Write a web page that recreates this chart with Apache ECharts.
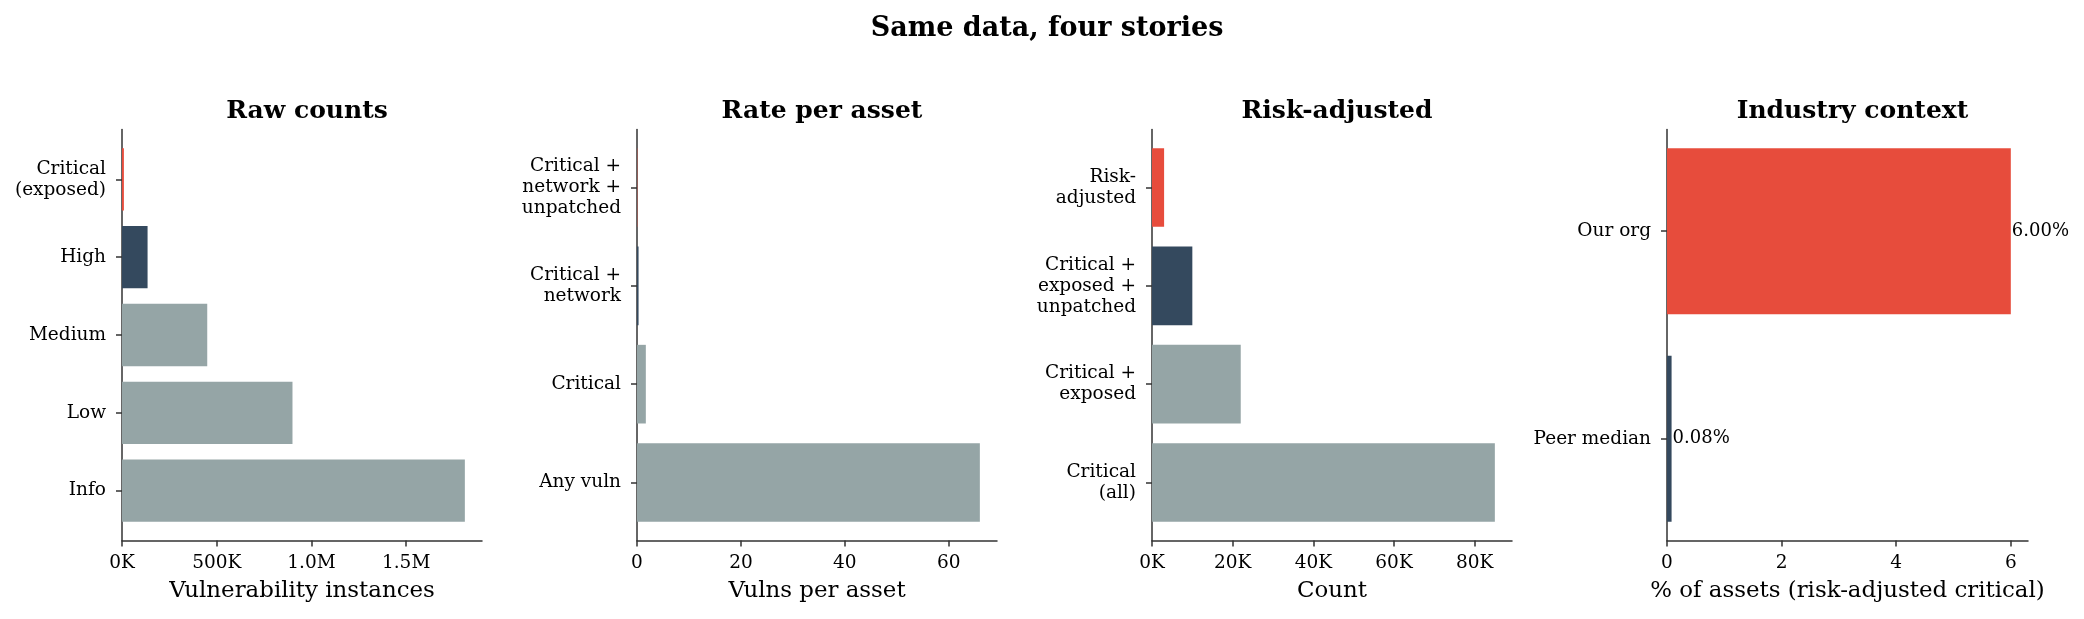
<!DOCTYPE html>
<html lang="en">
<head>
	<meta charset="UTF-8">
	<title>Same data, four stories</title>
	<script src="https://cdn.jsdelivr.net/npm/echarts@6/dist/echarts.min.js"></script>
	<style>
		html,body{margin:0;padding:0;width:100%;height:100%;background:#fff;}
		#chart{width:2084px;height:619px;}
	</style>
</head>
<body>
	<div id="chart"></div>
</body>
<script>
	// ---- data ----
	var rawCats = ['Critical\n(exposed)', 'High', 'Medium', 'Low', 'Info'];
	var rawVals = [10000, 135000, 450000, 900000, 1810000];
	var rawTicks = [0, 500000, 1000000, 1500000];
	var rawTickLabels = ['0K', '500K', '1.0M', '1.5M'];

	var rateCats = ['Critical +\nnetwork +\nunpatched', 'Critical +\nnetwork', 'Critical', 'Any vuln'];
	var rateVals = [0.06, 0.3, 1.7, 66];
	var rateTicks = [0, 20, 40, 60];
	var rateTickLabels = ['0', '20', '40', '60'];

	var riskCats = ['Risk-\nadjusted', 'Critical +\nexposed +\nunpatched', 'Critical +\nexposed', 'Critical\n(all)'];
	var riskVals = [3000, 10000, 22000, 85000];
	var riskTicks = [0, 20000, 40000, 60000, 80000];
	var riskTickLabels = ['0K', '20K', '40K', '60K', '80K'];

	var ctxCats = ['Our org', 'Peer median'];
	var ctxVals = [6.0, 0.08];
	var ctxTicks = [0, 2, 4, 6];
	var ctxTickLabels = ['0', '2', '4', '6'];

	// ---- styles ----
	var RED = '#e74c3c', NAVY = '#34495e', GREY = '#95a5a6', INK = '#333333';
	var FONT = 'DejaVu Serif';
	var rawColours = [RED, NAVY, GREY, GREY, GREY];
	var rateColours = [RED, NAVY, GREY, GREY];
	var riskColours = [RED, NAVY, GREY, GREY];
	var ctxColours = [RED, NAVY];

	var panels = [
		{title: 'Raw counts', xName: 'Vulnerability instances', cats: rawCats, vals: rawVals, colours: rawColours, ticks: rawTicks, tickLabels: rawTickLabels, left: 122, right: 482},
		{title: 'Rate per asset', xName: 'Vulns per asset', cats: rateCats, vals: rateVals, colours: rateColours, ticks: rateTicks, tickLabels: rateTickLabels, left: 637, right: 997},
		{title: 'Risk-adjusted', xName: 'Count', cats: riskCats, vals: riskVals, colours: riskColours, ticks: riskTicks, tickLabels: riskTickLabels, left: 1152, right: 1512},
		{title: 'Industry context', xName: '% of assets (risk-adjusted critical)', cats: ctxCats, vals: ctxVals, colours: ctxColours, ticks: ctxTicks, tickLabels: ctxTickLabels, left: 1667, right: 2028, valueLabels: true}
	];

	var SPINE_TOP = 129.5, SPINE_H = 411;

	var myChart = echarts.init(document.getElementById('chart'), null, {renderer: 'canvas'});

	var titles = [{
		text: 'Same data, four stories',
		left: 1042, top: 10, textAlign: 'center',
		textStyle: {fontFamily: FONT, fontSize: 27, fontWeight: 'bold', color: '#000'}
	}];
	var grids = [], xAxes = [], yAxes = [], series = [];

	panels.forEach(function (p, i) {
		var n = p.cats.length;
		var xmax = Math.max.apply(null, p.vals) * 1.05;
		// matplotlib-like: bars (0.8 wide) fill 1/1.1 of the spine
		var band = (SPINE_H / 1.1) / (n - 0.2);
		var inset = (SPINE_H - n * band) / 2;
		var w = p.right - p.left;

		titles.push({
			text: p.title,
			left: (p.left + p.right) / 2, top: 94, textAlign: 'center',
			textStyle: {fontFamily: FONT, fontSize: 25, fontWeight: 'bold', color: '#000'}
		});

		// grid for spines + x axis
		grids.push({left: p.left, top: SPINE_TOP, width: w, height: SPINE_H});
		// grid for bars + category labels
		grids.push({left: p.left, top: SPINE_TOP + inset, width: w, height: n * band});

		var tl = p.tickLabels, tk = p.ticks;
		xAxes.push({
			gridIndex: 2 * i, type: 'value', min: 0, max: xmax,
			name: p.xName, nameLocation: 'middle', nameGap: 39,
			nameTextStyle: {fontFamily: FONT, fontSize: 22.9, color: '#000'},
			axisLine: {show: true, onZero: false, lineStyle: {color: INK, width: 1.5}},
			axisTick: {show: true, length: 6, customValues: tk, lineStyle: {color: INK, width: 1.5}},
			axisLabel: {
				show: true, customValues: tk, margin: 13,
				fontFamily: FONT, fontSize: 18.5, color: '#000',
				formatter: function (v) {
					var k = tk.indexOf(v);
					return k >= 0 ? tl[k] : '';
				}
			},
			splitLine: {show: false}
		});
		yAxes.push({
			gridIndex: 2 * i, type: 'value', min: 0, max: 1,
			axisLine: {show: true, onZero: false, lineStyle: {color: INK, width: 1.5}},
			axisTick: {show: false}, axisLabel: {show: false}, splitLine: {show: false}
		});

		xAxes.push({gridIndex: 2 * i + 1, type: 'value', min: 0, max: xmax, show: false});
		yAxes.push({
			gridIndex: 2 * i + 1, type: 'category', data: p.cats, inverse: true,
			axisLine: {show: false},
			axisTick: {show: true, alignWithLabel: true, length: 6, lineStyle: {color: INK, width: 1.5}},
			axisLabel: {
				margin: 16, fontFamily: FONT, fontSize: 18.5, lineHeight: 21,
				color: '#000', align: 'right', padding: [4, 0, 0, 0]
			}
		});

		series.push({
			type: 'bar',
			xAxisIndex: 2 * i + 1, yAxisIndex: 2 * i + 1,
			barCategoryGap: '20%',
			data: p.vals.map(function (v, k) {
				return {value: v, itemStyle: {color: p.colours[k]}};
			}),
			label: {
				show: !!p.valueLabels, position: 'right', distance: 1,
				fontFamily: FONT, fontSize: 18, color: '#000', padding: [3, 0, 0, 0],
				formatter: function (d) { return d.value.toFixed(2) + '%'; }
			},
			silent: true,
			animation: false
		});
	});

	myChart.setOption({
		backgroundColor: '#ffffff',
		animation: false,
		title: titles,
		grid: grids,
		xAxis: xAxes,
		yAxis: yAxes,
		series: series
	});
</script>
</html>
